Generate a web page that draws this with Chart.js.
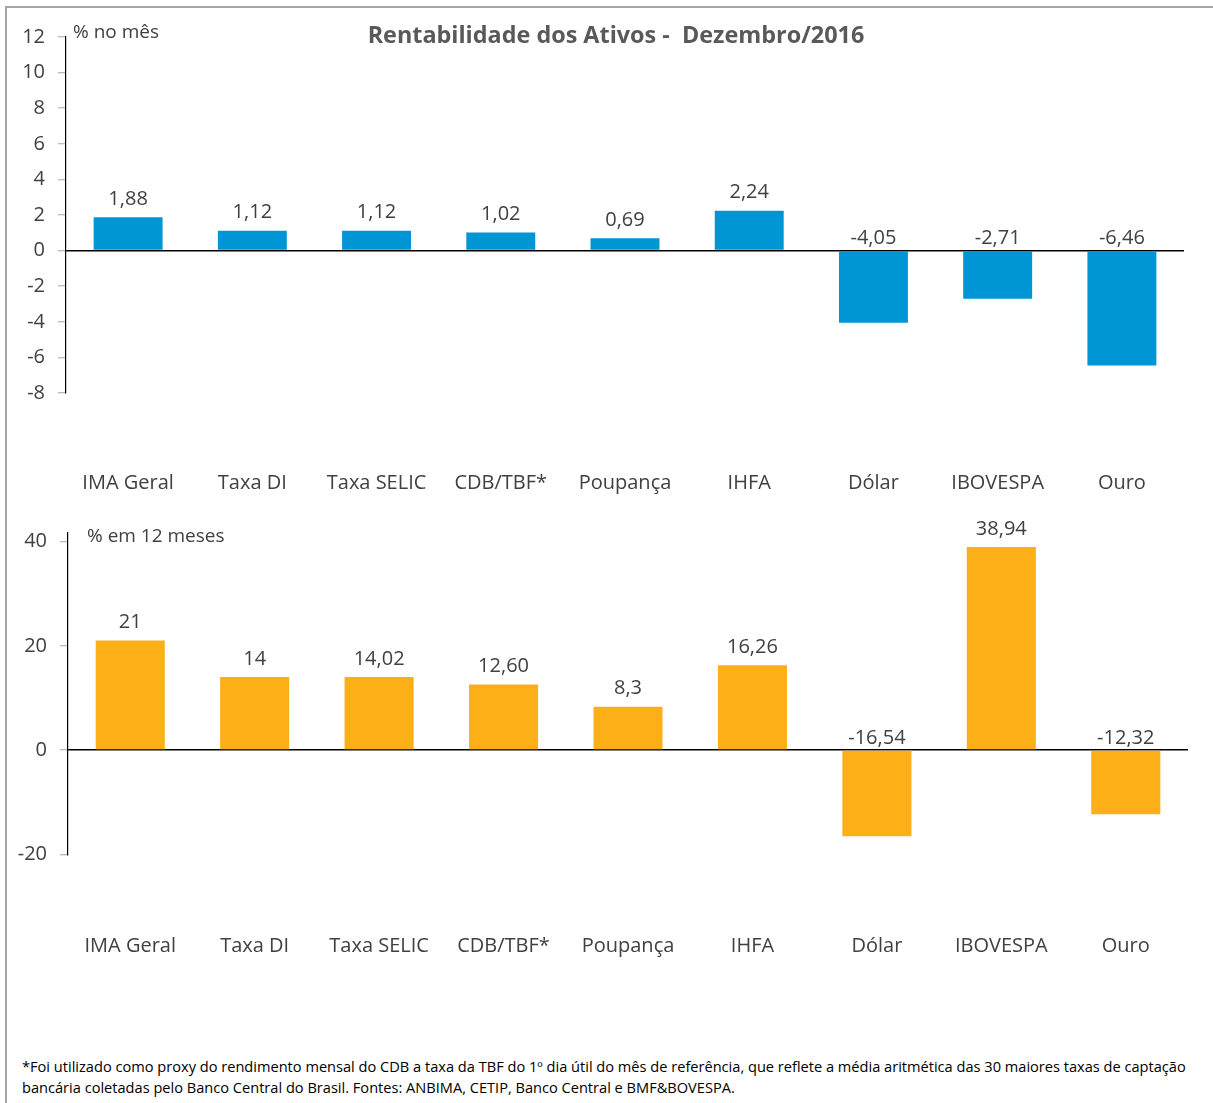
<!DOCTYPE html>
<html>
<head>
<meta charset="utf-8">
<script src="https://cdn.jsdelivr.net/npm/chart.js@4.4.1/dist/chart.umd.min.js"></script>
<style>
  html, body { margin: 0; padding: 0; background: #fff; }
  #page { position: relative; width: 1213px; height: 1103px; overflow: hidden; font-family: 'Open Sans', sans-serif; }
  #frame { position: absolute; left: 5px; top: 6px; width: 1300px; height: 1200px; border-left: 2px solid #A6A6A6; border-top: 2px solid #A6A6A6; }
  .cv { position: absolute; left: 0; }
  #title { position: absolute; left: 0; width: 1232px; top: 18px; text-align: center; font-weight: bold; font-size: 23.4px; color: #595959; white-space: pre; }
  .unit { position: absolute; font-size: 19px; color: #404040; white-space: nowrap; }
  #note { position: absolute; left: 22px; top: 1056px; font-size: 14.6px; color: #000; line-height: 21px; white-space: nowrap; }
</style>
</head>
<body>
<div id="page">
  <div id="frame"></div>
  <div class="cv" style="top:0;width:1213px;height:510px;"><canvas id="c1"></canvas></div>
  <div class="cv" style="top:500px;width:1213px;height:500px;"><canvas id="c2"></canvas></div>
  <div id="title">Rentabilidade dos Ativos -  Dezembro/2016</div>
  <div class="unit" style="left:73px;top:18px;">% no mês</div>
  <div class="unit" style="left:87px;top:522px;">% em 12 meses</div>
  <div id="note"><span id="n1">*Foi utilizado como proxy do rendimento mensal do CDB a taxa da TBF do 1º dia útil do mês de referência, que reflete a média aritmética das 30 maiores taxas de captação</span><br><span>bancária coletadas pelo Banco Central do Brasil. Fontes: ANBIMA, CETIP, Banco Central e BMF&amp;BOVESPA.</span></div>
</div>
<script>
const categories = ['IMA Geral', 'Taxa DI', 'Taxa SELIC', 'CDB/TBF*', 'Poupança', 'IHFA', 'Dólar', 'IBOVESPA', 'Ouro'];
const monthValues = [1.88, 1.12, 1.12, 1.02, 0.69, 2.24, -4.05, -2.71, -6.46];
const monthLabels = ['1,88', '1,12', '1,12', '1,02', '0,69', '2,24', '-4,05', '-2,71', '-6,46'];
const yearValues = [21, 14, 14.02, 12.60, 8.3, 16.26, -16.54, 38.94, -12.32];
const yearLabels = ['21', '14', '14,02', '12,60', '8,3', '16,26', '-16,54', '38,94', '-12,32'];
const monthTicks = [12, 10, 8, 6, 4, 2, 0, -2, -4, -6, -8];
const yearTicks = [40, 20, 0, -20];

Chart.defaults.font.family = "'Open Sans', sans-serif";
Chart.defaults.color = '#404040';
Chart.defaults.animation = false;

const valueLabelPlugin = {
  id: 'valueLabels',
  afterDatasetsDraw(chart, args, opts) {
    const ctx = chart.ctx;
    const meta = chart.getDatasetMeta(0);
    const texts = opts.texts;
    ctx.save();
    ctx.font = "20px 'Open Sans', sans-serif";
    ctx.fillStyle = '#404040';
    ctx.textAlign = 'center';
    ctx.textBaseline = 'middle';
    meta.data.forEach((bar, i) => {
      const v = chart.data.datasets[0].data[i];
      const y = v >= 0 ? bar.y - 18 : bar.base - 13;
      ctx.fillText(texts[i], bar.x, y);
    });
    ctx.restore();
  }
};

function makeChart(id, values, texts, color, yMin, yMax, tickVals, yWidth, xHeight, pad, xPad) {
  return new Chart(document.getElementById(id), {
    type: 'bar',
    data: {
      labels: categories,
      datasets: [{ data: values, backgroundColor: color, borderWidth: 0, barPercentage: 0.555, categoryPercentage: 1 }]
    },
    options: {
      responsive: true,
      maintainAspectRatio: false,
      layout: { padding: pad },
      plugins: { legend: { display: false }, tooltip: { enabled: false }, valueLabels: { texts: texts } },
      scales: {
        x: {
          grid: { display: false, drawTicks: false },
          border: { display: false },
          ticks: { autoSkip: false, maxRotation: 0, padding: xPad, font: { size: 20 }, color: '#404040' },
          afterFit(scale) { scale.height = xHeight; scale.paddingLeft = 0; scale.paddingRight = 0; }
        },
        y: {
          min: yMin, max: yMax,
          afterBuildTicks(scale) { scale.ticks = tickVals.map(v => ({ value: v })); },
          grid: {
            drawOnChartArea: true,
            color: (c) => (c.tick && c.tick.value === 0) ? '#000000' : 'rgba(0,0,0,0)',
            lineWidth: 1.5,
            tickColor: '#A6A6A6',
            tickLength: 8,
            tickWidth: 1
          },
          border: { display: true, color: '#000000', width: 1.2 },
          ticks: { padding: 13, font: { size: 20 }, color: '#404040', callback: (v) => String(v) },
          afterFit(scale) { scale.width = yWidth; }
        }
      }
    },
    plugins: [valueLabelPlugin]
  });
}

makeChart('c1', monthValues, monthLabels, '#0096D6', -8, 12, monthTicks, 66, 117, { left: 0, right: 29, top: 37, bottom: 0 }, 78);
makeChart('c2', yearValues, yearLabels, '#FCAF17', -20, 41.7, yearTicks, 68, 145.7, { left: 0, right: 25, top: 32.7, bottom: 0 }, 80);
</script>
</body>
</html>
